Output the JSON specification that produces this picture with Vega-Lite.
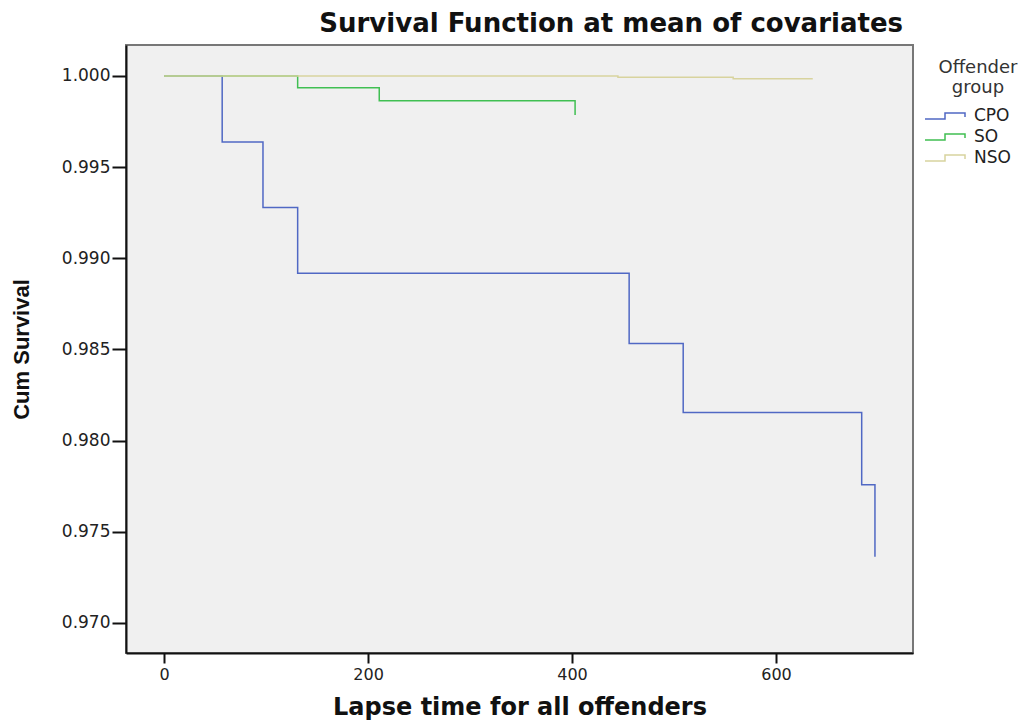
{
  "$schema": "https://vega.github.io/schema/vega-lite/v6.json",
  "width": 787,
  "height": 608,
  "autosize": {"type": "none"},
  "padding": {"left": 126, "top": 45, "right": 116, "bottom": 69},
  "background": "#ffffff",
  "title": {
    "text": "Survival Function at mean of covariates",
    "anchor": "end",
    "frame": "group",
    "dx": -10,
    "offset": 8,
    "font": "DejaVu Sans",
    "fontSize": 26,
    "fontWeight": "bold",
    "color": "#111111"
  },
  "config": {
    "view": {"fill": "#f0f0f0", "stroke": "#777777", "strokeWidth": 2},
    "axis": {
      "grid": false,
      "domainColor": "#111111",
      "domainWidth": 2,
      "tickColor": "#111111",
      "tickWidth": 2,
      "labelColor": "#222222",
      "titleColor": "#111111"
    }
  },
  "data": {
    "values": [
      {"group": "CPO", "time": 0, "surv": 1.0},
      {"group": "CPO", "time": 57, "surv": 0.99638},
      {"group": "CPO", "time": 97, "surv": 0.99279},
      {"group": "CPO", "time": 131, "surv": 0.98918},
      {"group": "CPO", "time": 456, "surv": 0.98533},
      {"group": "CPO", "time": 509, "surv": 0.98154},
      {"group": "CPO", "time": 684, "surv": 0.97758},
      {"group": "CPO", "time": 697, "surv": 0.97363},
      {"group": "SO", "time": 0, "surv": 1.0},
      {"group": "SO", "time": 131, "surv": 0.99935},
      {"group": "SO", "time": 211, "surv": 0.99864},
      {"group": "SO", "time": 403, "surv": 0.99786},
      {"group": "NSO", "time": 0, "surv": 1.0},
      {"group": "NSO", "time": 445, "surv": 0.99993},
      {"group": "NSO", "time": 558, "surv": 0.99985},
      {"group": "NSO", "time": 636, "surv": 0.99985}
    ]
  },
  "mark": {"type": "line", "interpolate": "step-after", "strokeWidth": 1.5},
  "encoding": {
    "x": {
      "field": "time",
      "type": "quantitative",
      "scale": {"domain": [-37.3, 734.3], "nice": false, "zero": false},
      "axis": {
        "values": [0, 200, 400, 600],
        "title": "Lapse time for all offenders",
        "titleFont": "DejaVu Sans",
        "titleFontSize": 24,
        "titleFontWeight": "bold",
        "titlePadding": 13,
        "labelFont": "DejaVu Sans",
        "labelFontSize": 16,
        "labelPadding": 3,
        "tickSize": 10
      }
    },
    "y": {
      "field": "surv",
      "type": "quantitative",
      "scale": {"domain": [0.96835, 1.0017], "nice": false, "zero": false},
      "axis": {
        "values": [0.970, 0.975, 0.980, 0.985, 0.990, 0.995, 1.000],
        "format": ".3f",
        "title": "Cum Survival",
        "titleFont": "Liberation Sans",
        "titleFontSize": 22,
        "titleFontWeight": "bold",
        "titlePadding": 28,
        "labelFont": "DejaVu Sans",
        "labelFontSize": 17,
        "labelPadding": 2,
        "tickSize": 14
      }
    },
    "color": {
      "field": "group",
      "type": "nominal",
      "scale": {"domain": ["CPO", "SO", "NSO"], "range": ["#5068c4", "#40bf52", "#d8d39e"]},
      "legend": {
        "title": ["Offender", "group"],
        "orient": "none",
        "legendX": 813,
        "legendY": 14,
        "titleFont": "DejaVu Sans",
        "titleFontSize": 18,
        "titleFontWeight": "normal",
        "titleColor": "#333333",
        "titleAlign": "center",
        "titleAnchor": "middle",
        "titlePadding": 8,
        "labelFont": "DejaVu Sans",
        "labelFontSize": 17,
        "labelColor": "#222222",
        "labelOffset": 7,
        "rowPadding": 2,
        "symbolType": "M-3.1,0.3H-1.1V-0.3H0.9V0.1",
        "symbolSize": 400,
        "symbolStrokeWidth": 1.5,
        "symbolFillColor": "transparent"
      }
    }
  }
}
